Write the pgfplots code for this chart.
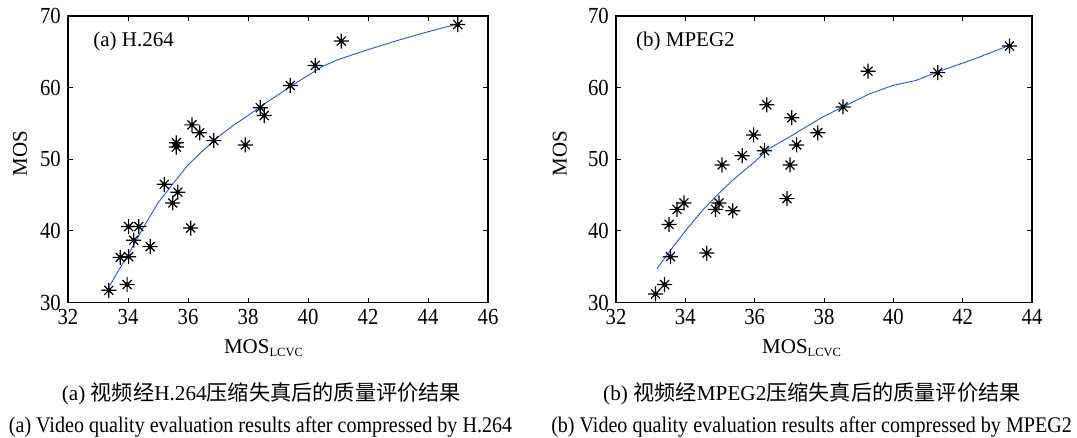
\documentclass[border=0pt]{standalone}
\usepackage{fontspec}
\setmainfont{Liberation Serif}
\newfontfamily\narrowfont[FakeStretch=0.9]{Liberation Serif}
\newfontfamily\cjk{Noto Sans CJK SC}
\usepackage{pgfplots}
\pgfplotsset{compat=1.18}

\definecolor{fitblue}{RGB}{45,85,200}

\pgfdeclareplotmark{mstar}{%
  \pgfpathmoveto{\pgfqpoint{-7.5bp}{0bp}}\pgfpathlineto{\pgfqpoint{7.5bp}{0bp}}%
  \pgfpathmoveto{\pgfqpoint{0bp}{-7.5bp}}\pgfpathlineto{\pgfqpoint{0bp}{7.5bp}}%
  \pgfpathmoveto{\pgfqpoint{-4.5bp}{-4.5bp}}\pgfpathlineto{\pgfqpoint{4.5bp}{4.5bp}}%
  \pgfpathmoveto{\pgfqpoint{-4.5bp}{4.5bp}}\pgfpathlineto{\pgfqpoint{4.5bp}{-4.5bp}}%
  \pgfusepathqstroke
  \pgfpathcircle{\pgfpointorigin}{2.2bp}\pgfusepathqfill
}

\pgfplotstableread{
x y
33.36 31.7
33.97 32.5
33.74 36.3
34.02 36.4
34.02 40.6
34.36 40.6
34.19 38.7
34.74 37.8
35.21 46.5
35.49 43.9
35.66 45.4
35.61 51.7
35.61 52.3
36.09 40.4
36.13 54.8
36.39 53.7
36.86 52.6
37.91 52.0
38.41 57.2
38.54 56.1
39.41 60.3
40.24 63.1
41.11 66.5
44.99 68.8
}\hpts

\pgfplotstableread{
x y
33.36 32.1
33.70 34.6
34.00 36.6
34.50 40.4
35.00 43.9
35.50 46.6
36.00 49.2
36.50 51.2
37.00 53.1
37.50 54.7
38.00 56.1
38.50 57.6
39.00 59.0
39.50 60.4
40.00 61.7
40.50 63.0
41.00 63.9
42.00 65.3
43.00 66.6
44.00 67.8
45.00 68.9
}\hfit

\pgfplotstableread{
x y
33.14 31.2
33.40 32.5
33.57 36.4
33.53 40.9
33.76 43.0
33.96 43.9
34.62 36.9
34.87 43.0
34.97 43.9
35.06 49.2
35.37 42.8
35.64 50.5
35.97 53.4
36.28 51.2
36.35 57.6
36.93 44.5
37.02 49.2
37.07 55.8
37.21 52.0
37.82 53.7
38.55 57.3
39.27 62.3
41.28 62.1
43.35 65.8
}\mpts

\pgfplotstableread{
x y
33.18 34.7
33.57 37.3
34.02 40.1
34.50 42.9
34.98 45.3
35.37 47.1
35.94 49.4
36.42 51.5
37.00 53.1
37.58 54.8
37.96 55.9
38.54 57.3
39.30 59.1
39.98 60.3
40.65 61.0
41.28 62.2
42.28 63.9
43.35 65.9
}\mfit

\pgfplotsset{
  mystyle/.style={
    scale only axis,
    anchor=south west,
    height=286.5bp,
    ymin=30, ymax=70,
    ytick={30,40,50,60,70},
    tick align=inside,
    major tick length=5bp,
    axis line style={line width=1.1bp},
    every tick/.style={line width=0.9bp, black},
    tick label style={font=\narrowfont\fontsize{23bp}{26bp}\selectfont},
    label style={font=\fontsize{21bp}{24bp}\selectfont},
    /pgf/number format/assume math mode=true,
  },
}

\begin{document}
\fontsize{21bp}{24bp}\selectfont
\begin{tikzpicture}
\path[use as bounding box] (0,0) rectangle (1077bp,-438bp);

\begin{axis}[mystyle,
  at={(68bp,-302.5bp)}, width=420bp,
  xmin=32, xmax=46, xtick={32,34,36,38,40,42,44,46},
  xlabel={MOS\textsubscript{\fontsize{12.5bp}{14bp}\selectfont LCVC}},
  ylabel={MOS},
  xlabel style={at={(axis description cs:0.371,-0.178)}, anchor=base west, inner sep=0pt},
  ylabel style={at={(axis description cs:-0.114,0.52)}, anchor=center},
]
\addplot[fitblue, line width=0.9bp] table[x=x,y=y] {\hfit};
\addplot[only marks, mark=mstar, mark options={line width=1.2bp, black}] table[x=x,y=y] {\hpts};
\node[anchor=base west, inner sep=0pt] at (axis description cs:0.06,0.892) {(a) H.264};
\end{axis}

\begin{axis}[mystyle,
  at={(616bp,-302.5bp)}, width=416bp,
  xmin=32, xmax=44, xtick={32,34,36,38,40,42,44},
  xlabel={MOS\textsubscript{\fontsize{12.5bp}{14bp}\selectfont LCVC}},
  ylabel={MOS},
  xlabel style={at={(axis description cs:0.351,-0.178)}, anchor=base west, inner sep=0pt},
  ylabel style={at={(axis description cs:-0.135,0.52)}, anchor=center},
]
\addplot[fitblue, line width=0.9bp] table[x=x,y=y] {\mfit};
\addplot[only marks, mark=mstar, mark options={line width=1.2bp, black}] table[x=x,y=y] {\mpts};
\node[anchor=base west, inner sep=0pt] at (axis description cs:0.048,0.892) {(b) MPEG2};
\end{axis}

\node[anchor=base, font=\fontsize{21.2bp}{25bp}\selectfont] at (261.5bp,-400bp) {(a) {\cjk 视频经}H.264{\cjk 压缩失真后的质量评价结果}};
\node[anchor=base, font=\narrowfont\fontsize{22.3bp}{26bp}\selectfont] at (260.5bp,-432bp) {(a) Video quality evaluation results after compressed by H.264};
\node[anchor=base, font=\fontsize{21.2bp}{25bp}\selectfont] at (812bp,-400bp) {(b) {\cjk 视频经}MPEG2{\cjk 压缩失真后的质量评价结果}};
\node[anchor=base, font=\narrowfont\fontsize{22.3bp}{26bp}\selectfont] at (811.5bp,-432bp) {(b) Video quality evaluation results after compressed by MPEG2};
\end{tikzpicture}
\end{document}
